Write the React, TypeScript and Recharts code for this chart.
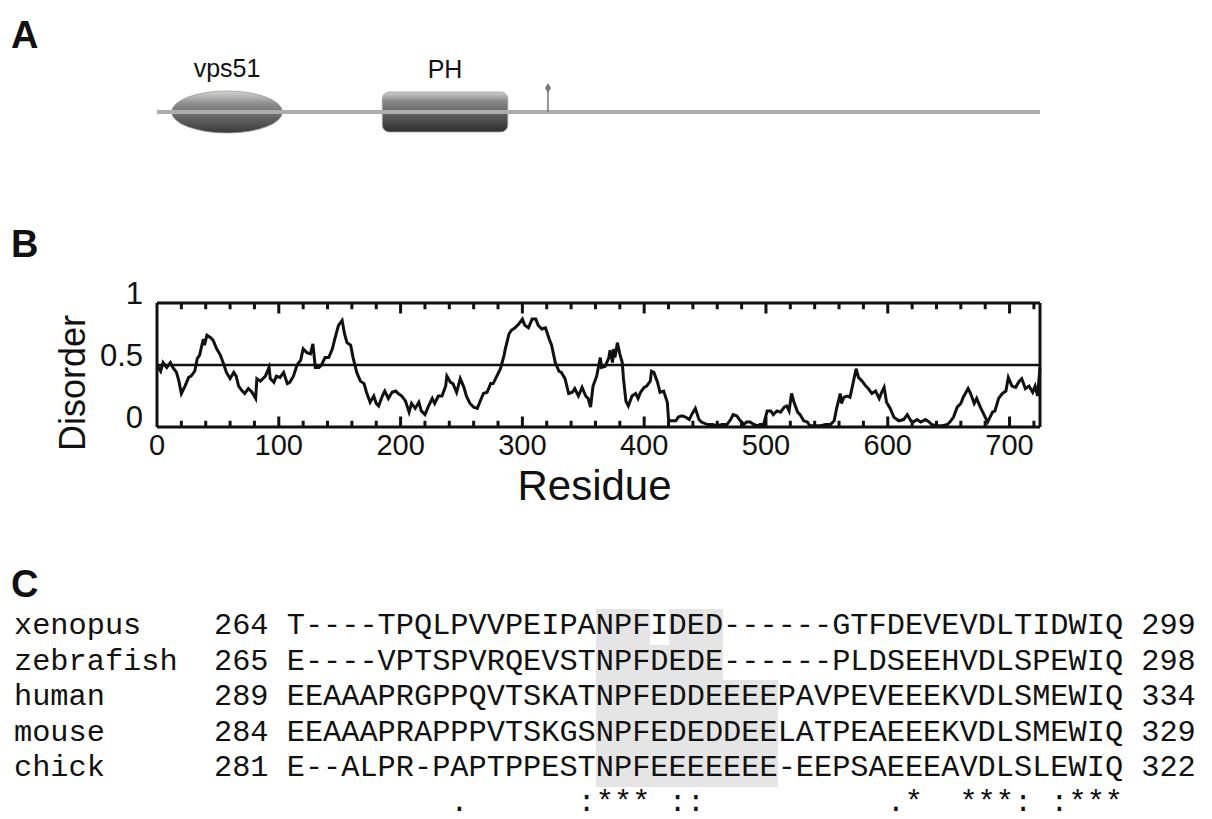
import React from 'react';
import {
  ComposedChart,
  Line,
  XAxis,
  YAxis,
  ReferenceLine,
  ReferenceArea,
  ReferenceDot,
  Label,
} from 'recharts';

const SANS = '"Liberation Sans", Arial, Helvetica, sans-serif';
const MONO = '"Liberation Mono", "Courier New", monospace';
const INK = '#111';

// ---- B: disorder prediction along the sequence ----
const sampleResidues = [
  0, 3, 5, 8, 11, 13, 16, 18, 20, 23, 26, 28, 31, 33, 35, 38, 39, 41, 44, 46,
  49, 52, 55, 57, 60, 63, 65, 67, 70, 72, 75, 78, 81, 82, 85, 89, 92, 93, 96, 98,
  101, 104, 107, 109, 112, 115, 118, 120, 123, 126, 128, 130, 133, 135, 138, 141, 144, 146, 149, 152,
  154, 156, 159, 161, 164, 167, 170, 172, 175, 178, 180, 182, 185, 187, 190, 193, 196, 198, 201, 204,
  207, 209, 212, 215, 217, 220, 223, 226, 228, 231, 234, 237, 238, 241, 243, 246, 249, 252, 254, 257,
  260, 263, 265, 268, 271, 274, 276, 279, 282, 285, 286, 289, 291, 294, 297, 300, 302, 305, 308, 311,
  313, 316, 319, 322, 324, 327, 330, 332, 335, 338, 341, 343, 346, 349, 352, 354, 356, 358, 361, 364,
  365, 368, 371, 372, 374, 375, 376, 378, 380, 382, 383, 385, 387, 390, 393, 395, 397, 400, 402, 405,
  406, 408, 411, 413, 416, 419, 420, 421, 426, 428, 431, 434, 437, 439, 442, 445, 447, 452, 456, 460,
  464, 468, 471, 473, 476, 479, 482, 484, 487, 490, 493, 495, 498, 501, 504, 506, 509, 512, 515, 517,
  519, 521, 523, 526, 528, 531, 534, 536, 539, 545, 549, 553, 556, 558, 561, 562, 564, 567, 569, 571,
  574, 576, 579, 582, 584, 587, 590, 593, 595, 597, 599, 602, 605, 609, 613, 616, 619, 621, 624, 627,
  631, 634, 636, 640, 645, 649, 651, 654, 657, 660, 662, 666, 668, 671, 673, 676, 679, 682, 683, 686,
  688, 691, 694, 697, 699, 702, 705, 708, 710, 713, 716, 719, 721, 723, 725,
];
const disorderScores = [
  0.50, 0.45, 0.52, 0.48, 0.52, 0.48, 0.44, 0.37, 0.27, 0.33, 0.40, 0.41, 0.45, 0.55, 0.58, 0.71, 0.66, 0.74, 0.72, 0.70,
  0.63, 0.58, 0.50, 0.44, 0.39, 0.44, 0.41, 0.33, 0.29, 0.27, 0.31, 0.28, 0.23, 0.39, 0.37, 0.41, 0.48, 0.39, 0.36, 0.41,
  0.40, 0.44, 0.35, 0.36, 0.41, 0.50, 0.54, 0.63, 0.60, 0.59, 0.67, 0.48, 0.48, 0.50, 0.56, 0.56, 0.63, 0.71, 0.82, 0.86,
  0.75, 0.68, 0.66, 0.56, 0.44, 0.37, 0.35, 0.28, 0.20, 0.25, 0.19, 0.17, 0.25, 0.29, 0.23, 0.28, 0.29, 0.27, 0.25, 0.21,
  0.12, 0.19, 0.15, 0.20, 0.13, 0.10, 0.17, 0.23, 0.19, 0.25, 0.25, 0.33, 0.41, 0.36, 0.35, 0.28, 0.39, 0.32, 0.25, 0.19,
  0.16, 0.15, 0.20, 0.27, 0.28, 0.35, 0.35, 0.41, 0.47, 0.58, 0.63, 0.75, 0.78, 0.80, 0.83, 0.87, 0.82, 0.80, 0.87, 0.87,
  0.82, 0.79, 0.80, 0.71, 0.66, 0.52, 0.45, 0.44, 0.39, 0.27, 0.28, 0.31, 0.25, 0.32, 0.25, 0.23, 0.16, 0.33, 0.41, 0.56,
  0.48, 0.49, 0.56, 0.62, 0.52, 0.63, 0.56, 0.68, 0.59, 0.52, 0.39, 0.21, 0.17, 0.25, 0.27, 0.23, 0.28, 0.32, 0.33, 0.37,
  0.45, 0.44, 0.36, 0.28, 0.29, 0.20, 0.06, 0.05, 0.05, 0.08, 0.09, 0.08, 0.06, 0.10, 0.15, 0.06, 0.04, 0.02, 0.02, 0.01,
  0.02, 0.02, 0.06, 0.10, 0.09, 0.05, 0.02, 0.04, 0.04, 0.02, 0.01, 0.02, 0.02, 0.13, 0.13, 0.10, 0.13, 0.12, 0.16, 0.17,
  0.13, 0.27, 0.20, 0.12, 0.10, 0.05, 0.04, 0.01, 0.01, 0.01, 0.02, 0.02, 0.05, 0.15, 0.27, 0.19, 0.24, 0.25, 0.24, 0.33,
  0.47, 0.40, 0.37, 0.33, 0.31, 0.27, 0.29, 0.23, 0.28, 0.32, 0.20, 0.15, 0.08, 0.05, 0.06, 0.10, 0.05, 0.04, 0.06, 0.04,
  0.06, 0.04, 0.02, 0.01, 0.01, 0.02, 0.04, 0.08, 0.16, 0.19, 0.24, 0.31, 0.27, 0.19, 0.23, 0.16, 0.10, 0.04, 0.06, 0.12,
  0.13, 0.23, 0.27, 0.29, 0.40, 0.33, 0.32, 0.37, 0.39, 0.31, 0.33, 0.28, 0.33, 0.25, 0.48,
];
const disorderCutoff = 0.5;
const residueTicks = [
  0, 20, 40, 60, 80, 100, 120, 140, 160, 180, 200, 220, 240, 260, 280, 300, 320, 340,
  360, 380, 400, 420, 440, 460, 480, 500, 520, 540, 560, 580, 600, 620, 640, 660, 680,
  700, 720,
];
const disorderTicks = [0, 0.5, 1];

// ---- A: domain layout ----
const proteinLength = 725;
const domainNames = ['vps51', 'PH'];
const domainStart = [12, 185];
const domainEnd = [103, 288];
const motifResidue = 321;

// ---- C: alignment ----
const speciesNames = ['xenopus', 'zebrafish', 'human', 'mouse', 'chick'];
const firstResidue = [264, 265, 289, 284, 281];
const lastResidue = [299, 298, 334, 329, 322];
const alignedSeqs = [
  'T----TPQLPVVPEIPANPFIDED------GTFDEVEVDLTIDWIQ',
  'E----VPTSPVRQEVSTNPFDEDE------PLDSEEHVDLSPEWIQ',
  'EEAAAPRGPPQVTSKATNPFEDDEEEEPAVPEVEEEKVDLSMEWIQ',
  'EEAAAPRAPPPVTSKGSNPFEDEDDEELATPEAEEEKVDLSMEWIQ',
  'E--ALPR-PAPTPPESTNPFEEEEEEE-EEPSAEEEAVDLSLEWIQ',
];
const conservation = '         .      :*** ::          .*  ***: :***';
// shaded alignment columns per row, inclusive [from, to]
const shadedColumns = [
  [[17, 19], [21, 23]],
  [[17, 23]],
  [[17, 26]],
  [[17, 26]],
  [[17, 26]],
];

const panelLetters = [
  { letter: 'A', baseline: 48 },
  { letter: 'B', baseline: 257 },
  { letter: 'C', baseline: 597 },
];

const disorderData = sampleResidues.map((r, i) => ({ residue: r, value: disorderScores[i] }));
const backboneData = [
  { residue: 0, y: 0 },
  { residue: proteinLength, y: 0 },
];

// inward frame ticks as short broken path pieces (length in disorder units)
const MINOR_TICK = 0.05;
const MAJOR_TICK = 0.085;
const innerTicks = residueTicks.filter((t) => t > 0 && t < proteinLength);
const tickPath = innerTicks.flatMap((t) => {
  const len = t % 100 === 0 ? MAJOR_TICK : MINOR_TICK;
  return [
    { residue: t, tick: 0 },
    { residue: t, tick: len },
    { residue: t, tick: null },
    { residue: t, tick: 1 },
    { residue: t, tick: 1 - len },
    { residue: t, tick: null },
  ];
});

const frame = { stroke: INK, strokeWidth: 3 };

const ResidueTick = (props: any) => {
  const { x, y, payload } = props;
  const v = payload.value;
  if (v % 100 !== 0) return <g />;
  return (
    <text x={x} y={y + 28} textAnchor="middle" fontSize={29} fontFamily={SANS} fill={INK}>
      {v}
    </text>
  );
};

const DisorderTick = (props: any) => {
  const { x, y, payload } = props;
  return (
    <text x={x - 14} y={y + 1} textAnchor="end" fontSize={31} fontFamily={SANS} fill={INK}>
      {String(payload.value)}
    </text>
  );
};

const ResidueTitle = (props: any) => {
  const { x, y, width } = props.viewBox;
  return (
    <text x={x + width / 2 - 4} y={y + 73} textAnchor="middle" fontSize={42} fontFamily={SANS} fill={INK}>
      Residue
    </text>
  );
};

const DisorderTitle = (props: any) => {
  const { x, y, width, height } = props.viewBox;
  const cx = x + width - 85;
  const cy = y + height / 2 + 18;
  return (
    <text
      x={cx}
      y={cy}
      transform={`rotate(-90, ${cx}, ${cy})`}
      textAnchor="middle"
      dominantBaseline="central"
      fontSize={36}
      fontFamily={SANS}
      fill={INK}
    >
      Disorder
    </text>
  );
};

const DomainEllipse = (props: any) => {
  const { x, y, width, height } = props;
  return (
    <g>
      <defs>
        <linearGradient id="ellGrad" x1="0" y1="0" x2="0" y2="1">
          <stop offset="0%" stopColor="#d4d4d4" />
          <stop offset="30%" stopColor="#8e8e8e" />
          <stop offset="70%" stopColor="#5c5c5c" />
          <stop offset="100%" stopColor="#3a3a3a" />
        </linearGradient>
      </defs>
      <ellipse
        cx={x + width / 2}
        cy={y + height / 2}
        rx={width / 2}
        ry={height / 2}
        fill="url(#ellGrad)"
        stroke="#9a9a9a"
        strokeWidth={0.8}
      />
    </g>
  );
};

const DomainBox = (props: any) => {
  const { x, y, width, height } = props;
  return (
    <g>
      <defs>
        <linearGradient id="boxGrad" x1="0" y1="0" x2="0" y2="1">
          <stop offset="0%" stopColor="#cfcfcf" />
          <stop offset="22%" stopColor="#8a8a8a" />
          <stop offset="65%" stopColor="#555" />
          <stop offset="100%" stopColor="#2e2e2e" />
        </linearGradient>
      </defs>
      <rect x={x} y={y} width={width} height={height} rx={7} ry={7} fill="url(#boxGrad)" stroke="#9a9a9a" strokeWidth={0.8} />
    </g>
  );
};

const Diamond = (props: any) => {
  const { cx, cy } = props;
  return <polygon points={`${cx},${cy - 5} ${cx + 3},${cy} ${cx},${cy + 5} ${cx - 3},${cy}`} fill="#777" />;
};

const domainShapes = [DomainEllipse, DomainBox];

const DomainPanel = () => (
  <ComposedChart width={1100} height={120} data={backboneData} margin={{ top: 0, right: 60, bottom: 0, left: 157 }}>
    <XAxis dataKey="residue" type="number" domain={[0, proteinLength]} hide />
    <YAxis domain={[-1, 1]} hide />
    <Line dataKey="y" stroke="#adadad" strokeWidth={4} dot={false} isAnimationActive={false} />
    <ReferenceLine
      segment={[
        { x: motifResidue, y: 0 },
        { x: motifResidue, y: 0.4 },
      ]}
      stroke="#777"
      strokeWidth={1.5}
    />
    <ReferenceDot x={motifResidue} y={0.4} r={4} shape={Diamond} />
    {domainNames.map((name, i) => {
      const Shape = domainShapes[i];
      return (
        <ReferenceArea
          key={name}
          x1={domainStart[i]}
          x2={domainEnd[i]}
          y1={i === 0 ? -0.35 : -0.333}
          y2={i === 0 ? 0.35 : 0.333}
          shape={(p: any) => <Shape {...p} />}
          label={{ value: name, position: 'top', offset: 14, fontSize: 25, fill: INK, fontFamily: SANS }}
        />
      );
    })}
  </ComposedChart>
);

const DisorderPanel = () => (
  <ComposedChart width={1100} height={260} data={disorderData} margin={{ top: 33, right: 50, bottom: 33, left: 97 }}>
    <XAxis
      dataKey="residue"
      type="number"
      domain={[0, proteinLength]}
      ticks={residueTicks}
      interval={0}
      height={60}
      tickSize={0}
      tickMargin={0}
      tickLine={false}
      axisLine={frame}
      tick={<ResidueTick />}
    >
      <Label content={ResidueTitle} />
    </XAxis>
    <XAxis
      xAxisId="top"
      orientation="top"
      dataKey="residue"
      type="number"
      domain={[0, proteinLength]}
      height={10}
      tick={false}
      tickLine={false}
      axisLine={frame}
    />
    <YAxis
      domain={[0, 1]}
      ticks={disorderTicks}
      interval={0}
      width={60}
      tickSize={0}
      tickMargin={0}
      tickLine={false}
      axisLine={frame}
      tick={<DisorderTick />}
    >
      <Label content={DisorderTitle} />
    </YAxis>
    <YAxis yAxisId="right" orientation="right" domain={[0, 1]} width={10} tick={false} tickLine={false} axisLine={frame} />
    <ReferenceLine y={disorderCutoff} stroke={INK} strokeWidth={2.4} />
    <Line
      data={tickPath}
      dataKey="tick"
      type="linear"
      stroke={INK}
      strokeWidth={3}
      dot={false}
      connectNulls={false}
      isAnimationActive={false}
    />
    <Line dataKey="value" type="linear" stroke={INK} strokeWidth={3} dot={false} isAnimationActive={false} />
  </ComposedChart>
);

const ROW_H = 35.6;

const AlignmentRow = ({ i }: { i: number }) => {
  const seq = alignedSeqs[i];
  const isShaded = (c: number) => shadedColumns[i].some(([a, b]) => c >= a && c <= b);
  const parts: { text: string; shaded: boolean }[] = [];
  for (let c = 0; c < seq.length; c++) {
    const s = isShaded(c);
    const last = parts[parts.length - 1];
    if (last && last.shaded === s) last.text += seq[c];
    else parts.push({ text: seq[c], shaded: s });
  }
  return (
    <div style={{ height: ROW_H, whiteSpace: 'pre' }}>
      {speciesNames[i].padEnd(11) + firstResidue[i] + ' '}
      {parts.map((p, k) =>
        p.shaded ? (
          <span key={k} style={{ background: '#e5e5e5', display: 'inline-block', height: ROW_H, verticalAlign: 'top' }}>
            {p.text}
          </span>
        ) : (
          <span key={k}>{p.text}</span>
        )
      )}
      {' ' + lastResidue[i]}
    </div>
  );
};

export default function App() {
  return (
    <div style={{ position: 'absolute', left: 0, top: 0, width: 1212, height: 819, background: '#fff' }}>
      <svg width={1212} height={819} style={{ position: 'absolute', left: 0, top: 0 }}>
        {panelLetters.map((p) => (
          <text key={p.letter} x={11} y={p.baseline} fontSize={38} fontWeight="bold" fontFamily={SANS} fill={INK}>
            {p.letter}
          </text>
        ))}
      </svg>
      <div style={{ position: 'absolute', left: 0, top: 52 }}>
        <DomainPanel />
      </div>
      <div style={{ position: 'absolute', left: 0, top: 260 }}>
        <DisorderPanel />
      </div>
      <div
        style={{
          position: 'absolute',
          left: 14,
          top: 609,
          fontFamily: MONO,
          fontSize: 30.3,
          lineHeight: `${ROW_H}px`,
          color: INK,
        }}
      >
        {speciesNames.map((_, i) => (
          <AlignmentRow key={i} i={i} />
        ))}
        <div style={{ height: 28, lineHeight: '28px', whiteSpace: 'pre', marginTop: 2 }}>{' '.repeat(15) + conservation}</div>
      </div>
    </div>
  );
}
